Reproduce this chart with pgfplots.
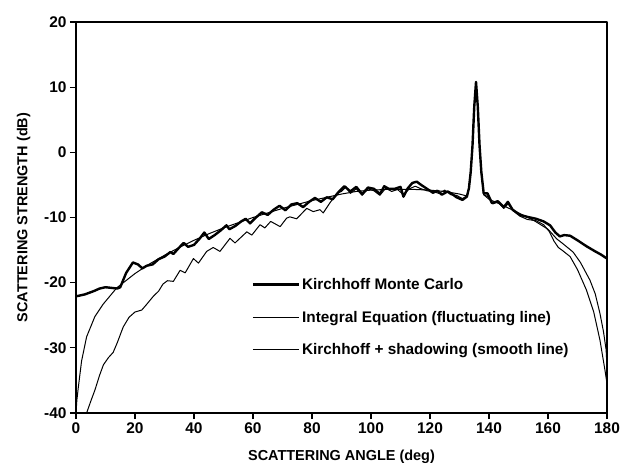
\documentclass[border=0pt]{standalone}
\usepackage{pgfplots}
\pgfplotsset{compat=1.18}
\usepackage{fontspec}
\setmainfont{Liberation Sans}

% Kirchhoff Monte Carlo (thick)
\pgfplotstableread{
x y
0 -22.1
3 -21.8
6 -21.3
8 -20.9
10 -20.7
12 -20.8
14 -20.9
15 -20.7
17 -18.5
19.3 -16.9
21 -17.2
22.5 -17.8
24 -17.4
26 -17.2
28 -16.4
30 -16.0
32 -15.3
33 -15.6
35 -14.6
36.5 -13.9
38 -14.5
40 -14.2
42 -13.2
43.5 -12.3
45 -13.3
47 -12.7
49 -12.0
51 -11.2
52 -11.8
54 -11.3
56 -10.6
57.5 -10.2
59 -10.9
61 -10.0
63 -9.2
65 -9.6
67 -8.8
69 -8.2
71 -8.9
73 -8.0
75 -7.8
77 -8.4
79 -7.6
81 -7.0
83 -7.6
85 -6.9
87 -7.2
89 -6.1
91 -5.2
93 -6.0
95 -5.3
97 -6.4
99 -5.4
101 -5.6
103 -6.4
104.5 -5.2
106 -5.6
108 -5.6
110 -5.3
111 -6.8
112.5 -5.5
114 -4.7
115.5 -4.5
117 -5.0
119 -5.6
121 -6.2
122.5 -5.9
124 -6.5
126 -6.0
127.5 -6.4
129 -6.9
131 -7.3
132.5 -6.8
133.2 -5.5
133.8 -3
134.4 1
135 7
135.6 10.8
136.2 7
136.8 1
137.4 -3
138.2 -6.3
139.5 -6.3
141 -7.8
143 -7.5
145 -8.4
146.4 -7.6
148 -8.8
150.5 -9.6
153 -9.9
156 -10.2
158.5 -10.6
160.7 -11.2
162.5 -12.3
164 -12.9
165.5 -12.7
167.5 -12.8
170 -13.5
173 -14.4
176 -15.2
178 -15.7
180 -16.3
}\mc

% Integral equation (fluctuating)
\pgfplotstableread{
x y
3.6 -40
5 -38.2
6.4 -36.5
8 -34.2
9.3 -32.6
11 -31.5
12.6 -30.7
14 -29.2
16 -26.8
18 -25.3
20 -24.5
22.3 -24.2
24 -23.3
26.2 -22.1
28 -21.3
29.5 -20.2
31 -19.7
33 -19.8
35.3 -18.1
37 -18.5
39.8 -16.3
41.5 -17.0
44.3 -15.2
46.5 -14.6
48.8 -15.2
52.2 -13.2
53.9 -13.9
57.9 -12.2
59.6 -12.7
62.4 -11.1
64 -11.6
66 -10.6
69.2 -11.4
71.4 -10.1
72.5 -9.9
74.8 -10.2
78.2 -8.6
80.4 -9.1
82.7 -8.8
83.8 -9.3
86 -7.8
88.4 -6.3
90 -6.0
91.5 -5.3
93 -6.3
95 -5.6
97 -6.6
99 -5.6
101 -5.9
103 -6.6
105 -5.5
107 -6.0
109 -5.7
111 -6.5
113 -5.6
115 -5.2
117 -5.6
119 -5.9
121 -6.0
123 -6.3
125 -5.8
127 -6.5
129 -6.6
131 -7.1
132.5 -6.7
133.2 -5.5
133.8 -3
134.4 1
135 7
135.6 10.7
136.2 7
136.8 1
137.4 -3
138.2 -6.5
139.6 -6.8
141.4 -7.9
143 -7.6
145 -8.6
146.5 -7.9
148 -8.9
150.5 -9.8
153 -10.3
156 -10.5
158.5 -11.1
160.5 -12.2
162 -13.6
163.5 -14.6
165 -15.1
167.5 -16.0
170 -18.0
173 -21.1
175.5 -24.5
177.6 -28.8
179.3 -33.4
180 -35.5
}\ie

% Kirchhoff + shadowing (smooth)
\pgfplotstableread{
x y
0 -40
0.3 -38
0.8 -36
1.9 -32
3.6 -28.3
6.4 -25.2
9.2 -23.3
13.8 -20.8
20 -18.6
25 -17.1
30 -15.8
35 -14.6
40 -13.5
45 -12.5
50 -11.6
55 -10.8
60 -10.0
65 -9.3
70 -8.6
75 -8.0
80 -7.4
85 -6.9
90 -6.4
95 -6.0
100 -5.8
105 -5.7
110 -5.7
115 -5.7
120 -5.8
125 -6.0
130 -6.4
132.5 -6.7
133.2 -5.5
133.8 -3
134.4 1
135 7
135.6 10.6
136.2 7
136.8 1
137.4 -3
138.2 -6.5
140 -7.2
145 -8.2
150 -9.3
155 -10.4
160 -11.8
163 -13.3
165 -14.0
168.5 -15.3
171 -16.9
174.2 -19.6
176 -21.7
177.6 -24.7
178.8 -27.5
179.7 -30.3
180 -33
}\ks

\begin{document}
\begin{tikzpicture}
\path[use as bounding box] (-76bp,-55bp) rectangle (544bp,413bp);
\begin{axis}[
    at={(0,0)}, anchor=south west,
    scale only axis,
    width=531bp, height=391bp,
    xmin=0, xmax=180, ymin=-40, ymax=20,
    xtick={0,20,...,180},
    ytick={-40,-30,...,20},
    tick align=outside,
    xtick pos=left, ytick pos=left,
    major tick length=6bp,
    axis line style={line width=1.6bp},
    every tick/.style={line width=1.3bp, black},
    tick label style={font=\fontsize{15.5}{18}\selectfont\bfseries},
    /pgf/number format/assume math mode=true,
    label style={font=\fontsize{14.5}{17}\selectfont\bfseries},
    xlabel={SCATTERING ANGLE (deg)},
    ylabel={SCATTERING STRENGTH (dB)},
    xlabel shift=10bp,
    ylabel shift=7bp,
    legend cell align=left,
    legend style={draw=none, fill=none, at={(0.325,0.355)}, anchor=north west,
        font=\fontsize{15.4}{17}\selectfont\bfseries, row sep=16bp},
    legend image code/.code={\draw[#1] (0bp,0bp) -- (46bp,0bp);},
    line join=round,
]
\addplot[black, line width=2.4bp] table {\mc};
\addlegendentry{Kirchhoff Monte Carlo}
\addplot[black, line width=1bp] table {\ie};
\addlegendentry{Integral Equation (fluctuating line)}
\addplot[black, line width=1bp] table {\ks};
\addlegendentry{Kirchhoff + shadowing (smooth line)}
\end{axis}
\end{tikzpicture}
\end{document}
